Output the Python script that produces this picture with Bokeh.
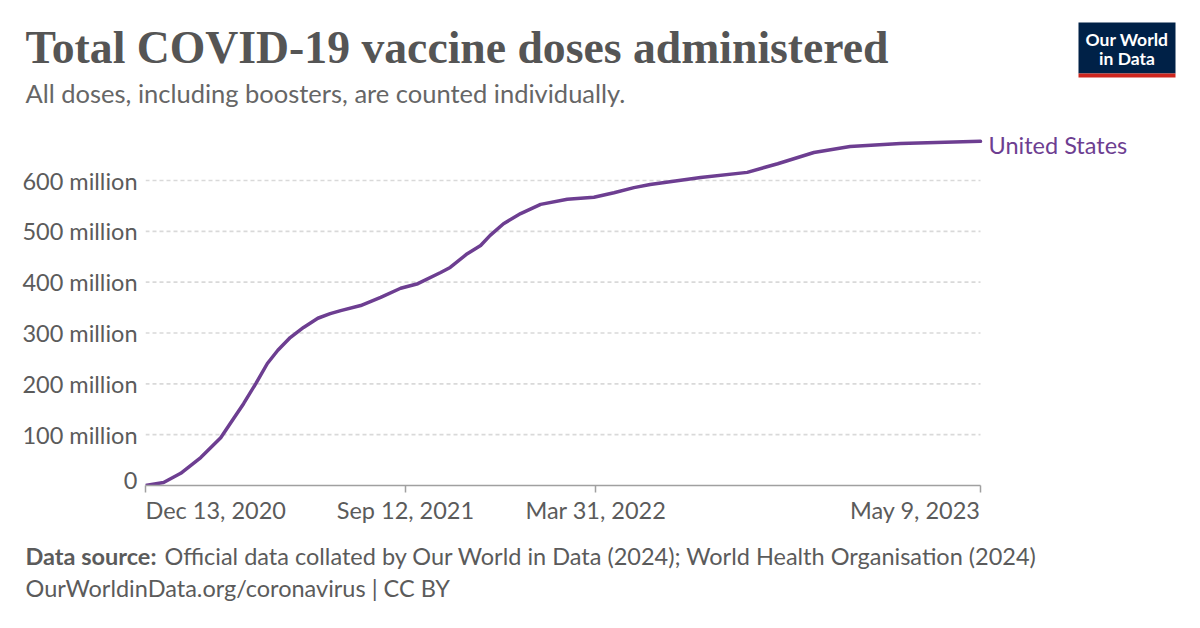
import pandas as pd
from bokeh.plotting import figure
from bokeh.models import Range1d, FixedTicker, CustomJSTickFormatter, Label
from bokeh.embed import file_html
from bokeh.resources import INLINE

# ---------------- data ----------------
dates = ["2020-12-13", "2021-01-01", "2021-01-19", "2021-02-09", "2021-03-02",
         "2021-03-12", "2021-03-26", "2021-04-08", "2021-04-20", "2021-05-01",
         "2021-05-14", "2021-05-28", "2021-06-12", "2021-06-25", "2021-07-06",
         "2021-07-27", "2021-08-17", "2021-09-07", "2021-09-25", "2021-10-19",
         "2021-10-29", "2021-11-16", "2021-11-30", "2021-12-10", "2021-12-24",
         "2022-01-11", "2022-02-01", "2022-03-01", "2022-03-29", "2022-04-19",
         "2022-05-10", "2022-05-27", "2022-07-19", "2022-09-06", "2022-10-08",
         "2022-11-15", "2022-12-23", "2023-02-14", "2023-05-09"]
doses_millions = [0, 6, 24, 55, 94,
                  122, 161, 201, 240, 266,
                  291, 311, 329, 338, 344,
                  354, 370, 388, 397, 419,
                  429, 456, 472, 492, 515,
                  535, 553, 563, 567, 576,
                  586, 592, 606, 616, 633,
                  655, 667, 673, 677]
series_name = "United States"
y_ticks = [0, 100, 200, 300, 400, 500, 600]
x_tick_dates = ["2020-12-13", "2021-09-12", "2022-03-31", "2023-05-09"]
x_tick_labels = ["Dec 13, 2020", "Sep 12, 2021", "Mar 31, 2022", "May 9, 2023"]

title = "Total COVID-19 vaccine doses administered"
subtitle = "All doses, including boosters, are counted individually."
source_bold = "Data source:"
source_text = "Official data collated by Our World in Data (2024); World Health Organisation (2024)"
footer2 = "OurWorldinData.org/coronavirus | CC BY"

# ---------------- styling / layout constants ----------------
PURPLE = "#6d3e91"
GREY = "#5b5b5b"
FONT = "Lato"
W = 1200
HEAD_H, MAIN_H = 125, 368
FOOT_H = 628 - HEAD_H - MAIN_H
PLOT_LEFT, PLOT_RIGHT = 145, 980          # page x of first / last date
FRAME_TOP, FRAME_BOTTOM = 130, 485        # page y of frame
Y_PX_PER_M = 305 / 600.0


def ms(d):
    return pd.Timestamp(d).timestamp() * 1000.0


start_ms, end_ms = ms(x_tick_dates[0]), ms(x_tick_dates[-1])
px_per_ms = (PLOT_RIGHT - PLOT_LEFT) / (end_ms - start_ms)
x_vals = pd.to_datetime(dates)
x_ticks_ms = [ms(d) for d in x_tick_dates]


def blank(height, y0, y1):
    f = figure(width=W, height=height, output_backend="svg", toolbar_location=None,
               x_range=Range1d(0, W), y_range=Range1d(y1, y0),
               x_axis_location=None, y_axis_location=None,
               min_border=0, min_border_left=0, min_border_right=0,
               min_border_top=0, min_border_bottom=0)
    f.grid.visible = False
    f.outline_line_color = None
    f.background_fill_color = "white"
    f.border_fill_color = "white"
    return f


# ---------------- header ----------------
head = blank(HEAD_H, 0, HEAD_H)
head.add_layout(Label(x=25, y=47, text=title, text_font="Liberation Serif",
                      text_font_style="bold", text_font_size="45.7px",
                      text_color="#555555", text_baseline="alphabetic"))
head.add_layout(Label(x=25, y=92, text=subtitle, text_font=FONT,
                      text_font_size="25.5px", text_color="#666666",
                      text_baseline="alphabetic"))
head.quad(left=[1078], right=[1175], top=[22], bottom=[73],
          fill_color="#002147", line_color=None)
head.quad(left=[1078], right=[1175], top=[73], bottom=[77],
          fill_color="#ce261e", line_color=None)
head.add_layout(Label(x=1126.5, y=39, text="Our World", text_font=FONT,
                      text_font_style="bold", text_font_size="17.5px",
                      text_color="white", text_align="center",
                      text_baseline="middle"))
head.add_layout(Label(x=1126.5, y=58, text="in Data", text_font=FONT,
                      text_font_style="bold", text_font_size="17.5px",
                      text_color="white", text_align="center",
                      text_baseline="middle"))

# ---------------- main chart ----------------
top_border = FRAME_TOP - HEAD_H
bottom_border = HEAD_H + MAIN_H - FRAME_BOTTOM
y_end = (FRAME_BOTTOM - FRAME_TOP) / Y_PX_PER_M
x_end = end_ms + (W - PLOT_RIGHT) / px_per_ms

p = figure(width=W, height=MAIN_H, output_backend="svg", toolbar_location=None,
           x_axis_type="datetime",
           x_range=Range1d(start_ms, x_end), y_range=Range1d(0, y_end),
           min_border_left=PLOT_LEFT, min_border_right=0,
           min_border_top=top_border, min_border_bottom=bottom_border)
p.outline_line_color = None
p.background_fill_color = "white"
p.border_fill_color = "white"
p.grid.visible = False

# dotted gridlines, only across the data's date span
grid_y = y_ticks[1:]
p.segment(x0=[start_ms] * len(grid_y), x1=[end_ms] * len(grid_y),
          y0=grid_y, y1=grid_y, line_color="#d9d9d9", line_width=1.6,
          line_dash="4 3")

# y axis
p.yaxis.ticker = FixedTicker(ticks=y_ticks)
p.yaxis.formatter = CustomJSTickFormatter(
    code="return tick == 0 ? '0' : tick.toFixed(0) + ' million';")
p.yaxis.axis_line_color = None
p.yaxis.major_tick_line_color = None
p.yaxis.major_tick_out = 0
p.yaxis.major_tick_in = 0
p.yaxis.minor_tick_line_color = None
p.yaxis.minor_tick_out = 0
p.yaxis.major_label_standoff = 8
p.yaxis.major_label_text_font = FONT
p.yaxis.major_label_text_font_size = "23.5px"
p.yaxis.major_label_text_color = GREY

# x axis: line + ticks only (labels drawn in footer with custom alignment)
p.xaxis.bounds = (start_ms, end_ms)
p.xaxis.ticker = FixedTicker(ticks=x_ticks_ms)
p.xaxis.formatter = CustomJSTickFormatter(code="return '';")
p.xaxis.major_label_text_font_size = "0px"
p.xaxis.major_label_standoff = 0
p.xaxis.axis_line_color = "#a0a0a0"
p.xaxis.axis_line_width = 1.5
p.xaxis.major_tick_line_color = "#a0a0a0"
p.xaxis.major_tick_line_width = 1.5
p.xaxis.major_tick_out = 7
p.xaxis.major_tick_in = 0
p.xaxis.minor_tick_line_color = None

p.line(x=x_vals, y=doses_millions, line_width=3.5, line_color=PURPLE,
       line_join="round", line_cap="round")

p.add_layout(Label(x=ms(dates[-1]), y=doses_millions[-1], x_offset=8, y_offset=-4,
                   text=series_name, text_font=FONT, text_font_size="23.5px",
                   text_color=PURPLE, text_baseline="middle", text_align="left"))

# ---------------- footer ----------------
foot_top = HEAD_H + MAIN_H
foot = blank(FOOT_H, foot_top, foot_top + FOOT_H)
foot.extra_x_ranges = {"dates": Range1d(start_ms - PLOT_LEFT / px_per_ms,
                                        end_ms + (W - PLOT_RIGHT) / px_per_ms)}
aligns = ["left"] + ["center"] * (len(x_tick_labels) - 2) + ["right"]
for xt, lab, al in zip(x_ticks_ms, x_tick_labels, aligns):
    foot.add_layout(Label(x=xt, y=509, x_range_name="dates", text=lab,
                          text_font=FONT, text_font_size="23.5px",
                          text_color=GREY, text_align=al,
                          text_baseline="alphabetic"))
foot.add_layout(Label(x=25, y=555, text=source_bold, text_font=FONT,
                      text_font_style="bold", text_font_size="23.5px",
                      text_color=GREY, text_baseline="alphabetic"))
foot.add_layout(Label(x=164, y=555, text=source_text, text_font=FONT,
                      text_font_size="23.5px", text_color=GREY,
                      text_baseline="alphabetic"))
foot.add_layout(Label(x=25, y=587, text=footer2, text_font=FONT,
                      text_font_size="23.5px", text_color=GREY,
                      text_baseline="alphabetic"))

# separate roots so that Bokeh does not align the figures' frames
open("out.html", "w").write(file_html([head, p, foot], INLINE))
